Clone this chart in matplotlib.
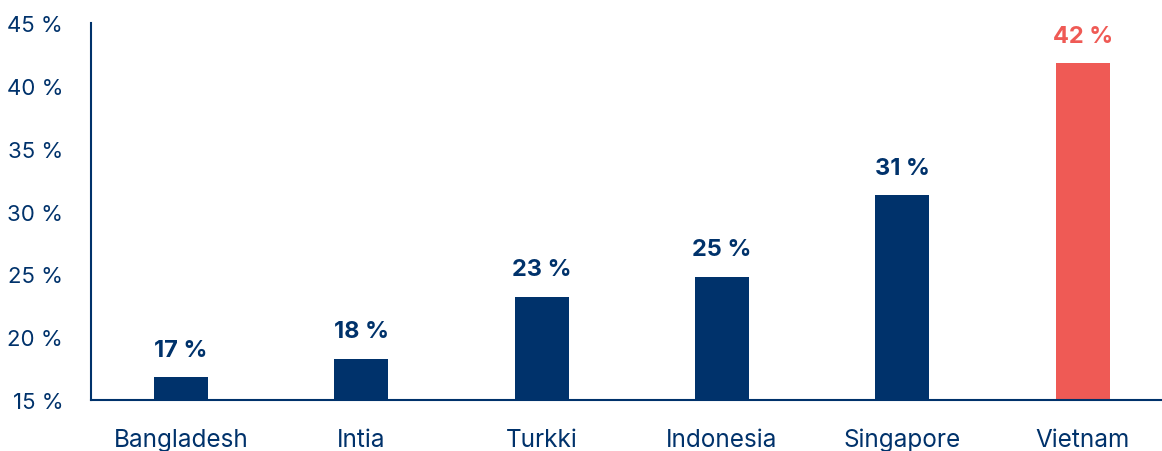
import matplotlib
matplotlib.use("Agg")
import matplotlib.pyplot as plt

countries = ["Bangladesh", "Intia", "Turkki", "Indonesia", "Singapore", "Vietnam"]
values = [16.8, 18.3, 23.2, 24.8, 31.3, 41.8]
yticks = [15, 20, 25, 30, 35, 40, 45]

navy = "#00326B"
red = "#EF5A55"
colors = [navy] * 5 + [red]

plt.rcParams["font.family"] = ["Inter", "DejaVu Sans"]

fig = plt.figure(figsize=(11.62, 4.52), dpi=100)
ax = fig.add_axes([0.0783, 0.1128, 0.9217, 0.8341])

x = list(range(len(countries)))
ax.bar(x, [v - 15 for v in values], bottom=15, width=0.3, color=colors)

for xi, v, c in zip(x, values, colors):
    ax.annotate(f"{round(v)} %", (xi, v), xytext=(0, 12), textcoords="offset points",
                ha="center", va="bottom", fontsize=17, fontweight="bold", color=c)

ax.set_ylim(15, 45)
ax.set_xlim(-0.5, 5.44)
ax.set_yticks(yticks)
ax.set_yticklabels([f"{t} %" for t in yticks])
ax.set_xticks(x)
ax.set_xticklabels(countries)

for side in ["top", "right"]:
    ax.spines[side].set_visible(False)
for side in ["left", "bottom"]:
    ax.spines[side].set_color(navy)
    ax.spines[side].set_linewidth(1.5)

ax.tick_params(axis="y", length=0, pad=20, labelsize=16, labelcolor=navy)
ax.tick_params(axis="x", length=0, pad=20, labelsize=17.5, labelcolor=navy)

fig.savefig("out.png", dpi=100)
